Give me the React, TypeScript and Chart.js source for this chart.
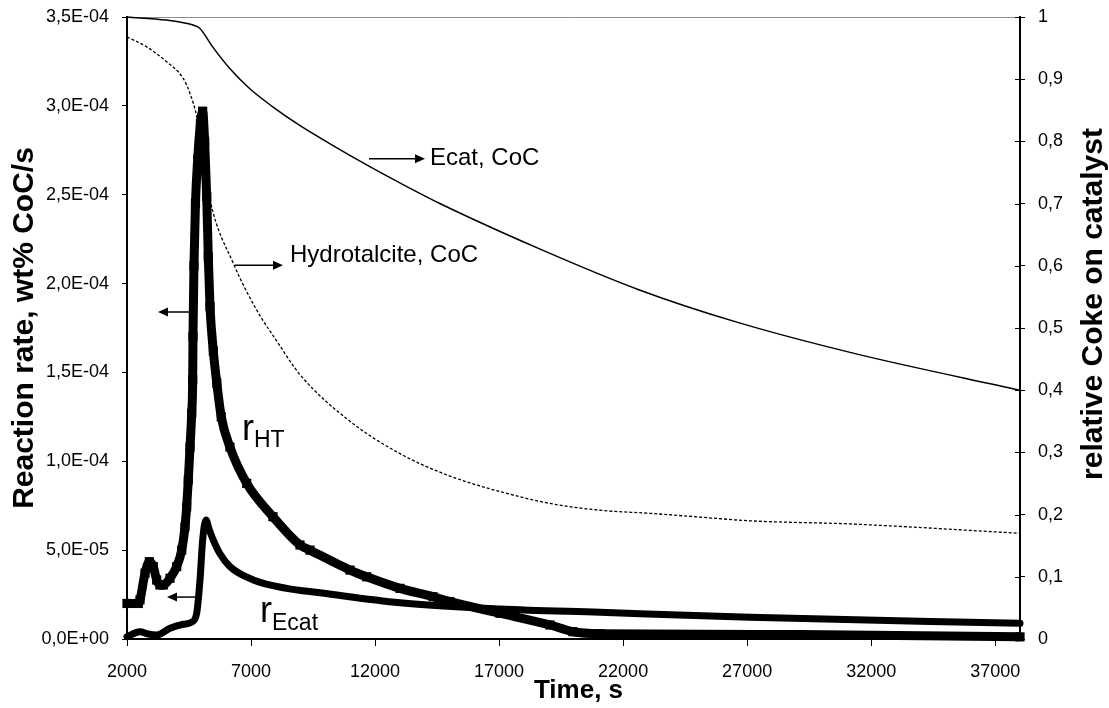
import React, { useEffect, useRef } from 'react';
import { Chart, registerables } from 'chart.js';

Chart.register(...registerables);

const FONT = "Arial, 'Liberation Sans', Helvetica, sans-serif";

// Axis ticks
const X_TICKS = [2000, 7000, 12000, 17000, 22000, 27000, 32000, 37000];
const LEFT_TICKS = [0, 5e-5, 1e-4, 1.5e-4, 2e-4, 2.5e-4, 3e-4, 3.5e-4];
const RIGHT_TICKS = [0, 0.1, 0.2, 0.3, 0.4, 0.5, 0.6, 0.7, 0.8, 0.9, 1];

// r_HT : reaction rate, hydrotalcite (left axis)
const HT_RATE_TIME = [2000, 2456, 2524, 2726, 2900, 3060, 3197, 3330, 3463, 3733, 4003, 4205, 4338, 4406, 4471, 4540, 4608, 4648, 4660, 4700, 4760, 4850, 4960, 5050, 5130, 5213, 5277, 5346, 5480, 5620, 5800, 6150, 6825, 7885, 8974, 9377, 10989, 11663, 13005, 14335, 15020, 17036, 19051, 19978, 21066, 29128, 38000];
const HT_RATE = [2.0e-5, 2.0e-5, 2.2e-5, 3.7e-5, 4.35e-5, 4.07e-5, 3.32e-5, 3.04e-5, 3.04e-5, 3.42e-5, 4.07e-5, 5.0e-5, 6.32e-5, 7.44e-5, 8.95e-5, 1.08e-4, 1.27e-4, 1.46e-4, 1.7e-4, 2.1e-4, 2.45e-4, 2.7e-4, 2.9e-4, 2.97e-4, 2.8e-4, 2.49e-4, 2.15e-4, 1.87e-4, 1.62e-4, 1.44e-4, 1.25e-4, 1.08e-4, 8.76e-5, 6.88e-5, 5.29e-5, 5.0e-5, 3.88e-5, 3.5e-5, 2.85e-5, 2.38e-5, 2.1e-5, 1.45e-5, 7.9e-6, 4.1e-6, 3.0e-6, 2.5e-6, 1.2e-6];

// r_Ecat : reaction rate, Ecat (left axis)
const ECAT_RATE_TIME = [2000, 2524, 2850, 3197, 3733, 4270, 4608, 4810, 4943, 5050, 5185, 5306, 5479, 5749, 6152, 7091, 8438, 9780, 13005, 17036, 21066, 27113, 38000];
const ECAT_RATE = [1.3e-6, 4.1e-6, 2.8e-6, 2.25e-6, 6.0e-6, 8.3e-6, 9.5e-6, 1.46e-5, 3.32e-5, 5.57e-5, 6.7e-5, 6.2e-5, 5.57e-5, 4.8e-5, 4.07e-5, 3.32e-5, 2.85e-5, 2.6e-5, 2.04e-5, 1.69e-5, 1.5e-5, 1.22e-5, 8.8e-6];

// Ecat, CoC (right axis)
const ECAT_COC_TIME = [2000, 3594, 4663, 4932, 5454, 6136, 6940, 7863, 8948, 10273, 11626, 12964, 14570, 18586, 22602, 26618, 31437, 38000];
const ECAT_COC = [1.0, 0.995, 0.987, 0.982, 0.952, 0.9175, 0.885, 0.856, 0.826, 0.794, 0.763, 0.734, 0.701, 0.628, 0.562, 0.509, 0.458, 0.4];

// Hydrotalcite, CoC (right axis)
const HT_COC_TIME = [2000, 2794, 3600, 4270, 4540, 4810, 5346, 6285, 7228, 8087, 8974, 10989, 13005, 15020, 17036, 19051, 21066, 23081, 25097, 27113, 31144, 38000];
const HT_COC = [0.968, 0.952, 0.928, 0.901, 0.877, 0.84, 0.706, 0.604, 0.529, 0.476, 0.425, 0.35, 0.298, 0.262, 0.237, 0.218, 0.207, 0.202, 0.196, 0.19, 0.185, 0.17];

// Annotations (data coordinates)
const ARROWS = [
  { axis: 'y1', from: [11756, 0.772], to: [14013, 0.772] },
  { axis: 'y1', from: [6354, 0.601], to: [8289, 0.601] },
  { axis: 'y', from: [4540, 1.84e-4], to: [3250, 1.84e-4] },
  { axis: 'y', from: [4741, 2.36e-5], to: [3613, 2.36e-5] },
];
const TEXT_LABELS = [
  { axis: 'y1', at: [14215, 0.772], text: 'Ecat, CoC' },
  { axis: 'y1', at: [8571, 0.617], text: 'Hydrotalcite, CoC' },
];
const R_LABELS = [
  { at: [6636, 1.12e-4], main: 'r', sub: 'HT', subDrop: 7 },
  { at: [7362, 9.7e-6], main: 'r', sub: 'Ecat', subDrop: 8 },
];

const pts = (xs: number[], ys: number[]) => xs.map((x, i) => ({ x, y: ys[i] }));

function sci(v: number): string {
  if (Math.abs(v) < 1e-12) return '0,0E+00';
  const [m, e] = v.toExponential(1).split('e');
  const n = parseInt(e, 10);
  return m.replace('.', ',') + 'E' + (n < 0 ? '-' : '+') + String(Math.abs(n)).padStart(2, '0');
}
function dec(v: number): string {
  return String(Number(v.toFixed(1))).replace('.', ',');
}

function drawArrow(ctx: CanvasRenderingContext2D, x1: number, y1: number, x2: number, y2: number) {
  const a = Math.atan2(y2 - y1, x2 - x1);
  const L = 10, W = 4.5;
  const bx = x2 - L * Math.cos(a), by = y2 - L * Math.sin(a);
  ctx.beginPath();
  ctx.moveTo(x1, y1);
  ctx.lineTo(bx, by);
  ctx.stroke();
  ctx.beginPath();
  ctx.moveTo(x2, y2);
  ctx.lineTo(bx + W * Math.sin(a), by - W * Math.cos(a));
  ctx.lineTo(bx - W * Math.sin(a), by + W * Math.cos(a));
  ctx.closePath();
  ctx.fill();
}

const decorPlugin = {
  id: 'decor',
  beforeDatasetsDraw(chart: any) {
    const ctx = chart.ctx as CanvasRenderingContext2D;
    const { left, right, top } = chart.chartArea;
    ctx.save();
    ctx.strokeStyle = '#8c8c8c';
    ctx.lineWidth = 1;
    ctx.beginPath();
    ctx.moveTo(left, top + 0.5);
    ctx.lineTo(right, top + 0.5);
    ctx.stroke();
    ctx.strokeStyle = '#000';
    const y1 = chart.scales.y1;
    RIGHT_TICKS.forEach((v) => {
      const py = Math.round(y1.getPixelForValue(v)) + 0.5;
      ctx.beginPath();
      ctx.moveTo(right - 5, py);
      ctx.lineTo(right, py);
      ctx.stroke();
    });
    ctx.restore();
  },
  afterDraw(chart: any) {
    const ctx = chart.ctx as CanvasRenderingContext2D;
    const { left, right, top, bottom } = chart.chartArea;
    const xs = chart.scales.x;
    ctx.save();
    ctx.fillStyle = '#000';
    ctx.strokeStyle = '#000';
    ctx.lineWidth = 1.5;

    ARROWS.forEach((a) => {
      const ys = chart.scales[a.axis];
      drawArrow(ctx, xs.getPixelForValue(a.from[0]), ys.getPixelForValue(a.from[1]), xs.getPixelForValue(a.to[0]), ys.getPixelForValue(a.to[1]));
    });

    ctx.font = `24px ${FONT}`;
    ctx.textAlign = 'left';
    ctx.textBaseline = 'middle';
    TEXT_LABELS.forEach((t) => {
      const ys = chart.scales[t.axis];
      ctx.fillText(t.text, xs.getPixelForValue(t.at[0]), ys.getPixelForValue(t.at[1]));
    });

    ctx.textBaseline = 'alphabetic';
    R_LABELS.forEach((r) => {
      const x = xs.getPixelForValue(r.at[0]);
      const y = chart.scales.y.getPixelForValue(r.at[1]);
      ctx.font = `36px ${FONT}`;
      ctx.fillText(r.main, x, y);
      const w = ctx.measureText(r.main).width;
      ctx.font = `23px ${FONT}`;
      ctx.fillText(r.sub, x + w, y + r.subDrop);
    });

    ctx.font = `bold 30px ${FONT}`;
    ctx.textAlign = 'center';
    ctx.textBaseline = 'middle';
    ctx.save();
    ctx.translate(25, (top + bottom) / 2);
    ctx.rotate(-Math.PI / 2);
    ctx.fillText('Reaction rate, wt% CoC/s', 0, 0);
    ctx.restore();

    ctx.save();
    ctx.translate(1094, (top + bottom) / 2 - 24);
    ctx.rotate(-Math.PI / 2);
    ctx.fillText('relative Coke on catalyst', 0, 0);
    ctx.restore();

    ctx.font = `bold 26px ${FONT}`;
    ctx.fillText('Time, s', (left + right) / 2 + 5, 691);
    ctx.restore();
  },
};

export default function App() {
  const ref = useRef<HTMLCanvasElement | null>(null);

  useEffect(() => {
    if (!ref.current) return;
    const tickFont = { family: FONT, size: 18 };
    const fitVertical = (w: number) => (s: any) => {
      s.width = w;
      s.paddingTop = 10;
      s.paddingBottom = 10;
    };
    const chart = new Chart(ref.current, {
      type: 'line',
      data: {
        datasets: [
          {
            label: 'r_HT',
            data: pts(HT_RATE_TIME, HT_RATE),
            yAxisID: 'y',
            borderColor: '#000',
            backgroundColor: '#000',
            borderWidth: 9,
            borderJoinStyle: 'round',
            pointStyle: 'rect',
            pointRadius: 6.5,
            pointBorderWidth: 0,
            pointBackgroundColor: '#000',
            cubicInterpolationMode: 'monotone',
            clip: false,
          } as any,
          {
            label: 'r_Ecat',
            data: pts(ECAT_RATE_TIME, ECAT_RATE),
            yAxisID: 'y',
            borderColor: '#000',
            borderWidth: 7,
            pointRadius: 0,
            borderJoinStyle: 'round',
            borderCapStyle: 'round',
            cubicInterpolationMode: 'monotone',
            clip: false,
          } as any,
          {
            label: 'Ecat, CoC',
            data: pts(ECAT_COC_TIME, ECAT_COC),
            yAxisID: 'y1',
            borderColor: '#000',
            borderWidth: 1.5,
            pointRadius: 0,
            cubicInterpolationMode: 'monotone',
            clip: false,
          } as any,
          {
            label: 'Hydrotalcite, CoC',
            data: pts(HT_COC_TIME, HT_COC),
            yAxisID: 'y1',
            borderColor: '#000',
            borderWidth: 1.3,
            borderDash: [3, 2],
            pointRadius: 0,
            cubicInterpolationMode: 'monotone',
            clip: false,
          } as any,
        ],
      },
      options: {
        responsive: false,
        animation: false,
        events: [],
        layout: { autoPadding: false, padding: { top: 17, left: 0, right: 0, bottom: 0 } },
        plugins: { legend: { display: false }, tooltip: { enabled: false }, title: { display: false } },
        scales: {
          x: {
            type: 'linear',
            position: 'bottom',
            min: 2000,
            max: 38000,
            afterBuildTicks: (s: any) => { s.ticks = X_TICKS.map((v) => ({ value: v })); },
            afterFit: (s: any) => { s.height = 69; },
            grid: { drawOnChartArea: false, drawTicks: true, tickLength: 7, color: '#000', tickColor: '#000', lineWidth: 1 },
            border: { display: true, color: '#000', width: 2 },
            ticks: { color: '#000', font: tickFont, padding: 15, maxRotation: 0, autoSkip: false, callback: (v: any) => String(v) },
          },
          y: {
            type: 'linear',
            position: 'left',
            min: 0,
            max: 3.5e-4,
            afterBuildTicks: (s: any) => { s.ticks = LEFT_TICKS.map((v) => ({ value: v })); },
            afterFit: fitVertical(127),
            grid: { drawOnChartArea: false, drawTicks: true, tickLength: 5, color: '#000', tickColor: '#000', lineWidth: 1 },
            border: { display: true, color: '#000', width: 2 },
            ticks: { color: '#000', font: tickFont, padding: 13, callback: (v: any) => sci(Number(v)) },
          },
          y1: {
            type: 'linear',
            position: 'right',
            min: 0,
            max: 1,
            afterBuildTicks: (s: any) => { s.ticks = RIGHT_TICKS.map((v) => ({ value: v })); },
            afterFit: fitVertical(89),
            grid: { drawOnChartArea: false, drawTicks: true, tickLength: 5, color: '#000', tickColor: '#000', lineWidth: 1 },
            border: { display: true, color: '#000', width: 2 },
            ticks: { color: '#000', font: tickFont, padding: 13, callback: (v: any) => dec(Number(v)) },
          },
        },
      } as any,
      plugins: [decorPlugin],
    });
    return () => chart.destroy();
  }, []);

  return (
    <div style={{ position: 'absolute', left: 0, top: 0, width: 1109, height: 708, background: '#fff' }}>
      <canvas ref={ref} width={1109} height={708} style={{ display: 'block' }} />
    </div>
  );
}
